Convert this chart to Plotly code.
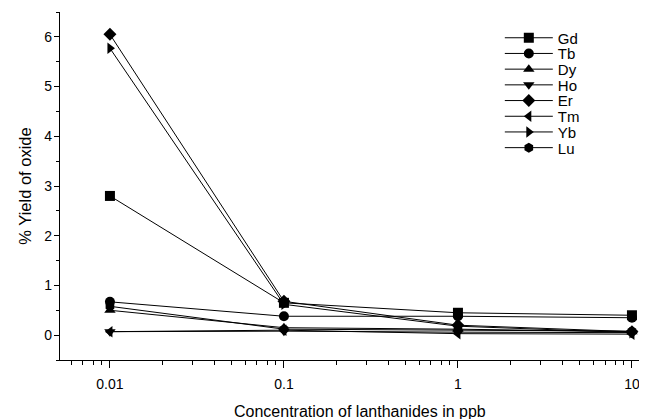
import plotly.graph_objects as go

conc = [0.01, 0.1, 1, 10]
names = ["Gd", "Tb", "Dy", "Ho", "Er", "Tm", "Yb", "Lu"]
gd = [2.80, 0.65, 0.45, 0.40]
tb = [0.67, 0.38, 0.38, 0.35]
dy = [0.50, 0.15, 0.12, 0.07]
ho = [0.07, 0.08, 0.06, 0.05]
er = [6.05, 0.68, 0.20, 0.07]
tm = [0.07, 0.10, 0.03, 0.02]
yb = [5.77, 0.62, 0.18, 0.05]
lu = [0.58, 0.12, 0.10, 0.08]
series = [gd, tb, dy, ho, er, tm, yb, lu]
symbols = ["square", "circle", "triangle-up", "triangle-down", "diamond",
           "triangle-left", "triangle-right", "hexagon"]
xticks = [0.01, 0.1, 1, 10]
xticktext = ["0.01", "0.1", "1", "10"]
yticks = [0, 1, 2, 3, 4, 5, 6]
x_title = "Concentration of lanthanides in ppb"
y_title = "% Yield of oxide"

# page body has an 8px margin, so the figure is sized to fit the window
W, H = 639, 411
L, R, T, B = 52, 6, 4, 59
plot_h = H - T - B

fig = go.Figure()
layout_legends = {}
for i, (name, vals, sym) in enumerate(zip(names, series, symbols)):
    key = "legend" if i == 0 else f"legend{i + 1}"
    fig.add_trace(go.Scatter(
        x=conc, y=vals, name=name, mode="lines+markers",
        line=dict(color="black", width=1),
        marker=dict(symbol=sym, size=10, color="black"),
        legend=key,
    ))
    yc = 30 + i * 15.7
    layout_legends[key] = dict(
        x=0.757, y=1 - (yc - T) / plot_h, xanchor="left", yanchor="middle",
        bgcolor="rgba(0,0,0,0)", font=dict(size=15), itemwidth=48,
    )

minor_x = [m * 10 ** e for e in range(-3, 2) for m in range(2, 10)]
minor_x = [v for v in minor_x if 0.0052 < v < 11]

fig.add_annotation(
    text=x_title, xref="paper", yref="paper", x=0.517, y=0,
    xanchor="center", yanchor="middle", yshift=-(403 - (H - B)),
    showarrow=False, font=dict(size=16),
)

fig.update_layout(
    width=W, height=H,
    margin=dict(l=L, r=R, t=T, b=B, autoexpand=False),
    paper_bgcolor="white", plot_bgcolor="white",
    font=dict(family="Liberation Sans, Arial, sans-serif", size=14, color="black"),
    showlegend=True,
    xaxis=dict(
        type="log", range=[-2.287, 1.052], automargin=False,
        tickvals=xticks, ticktext=xticktext,
        ticks="outside", ticklen=7, tickwidth=1, tickcolor="black",
        ticklabelstandoff=4,
        showline=True, linecolor="black", linewidth=1.3,
        showgrid=False, zeroline=False,
        minor=dict(tickvals=minor_x, ticks="outside", ticklen=4,
                   tickcolor="black", showgrid=False),
    ),
    yaxis=dict(
        range=[-0.5, 6.5], automargin=False,
        tickvals=yticks,
        ticks="outside", ticklen=5, tickwidth=1, tickcolor="black",
        ticklabelstandoff=-1,
        showline=True, linecolor="black", linewidth=1.3,
        showgrid=False, zeroline=False,
        minor=dict(dtick=0.5, ticks="outside", ticklen=3,
                   tickcolor="black", showgrid=False),
        title=dict(text=y_title, font=dict(size=16.5), standoff=8),
    ),
    **layout_legends,
)

fig.write_html("out.html")
